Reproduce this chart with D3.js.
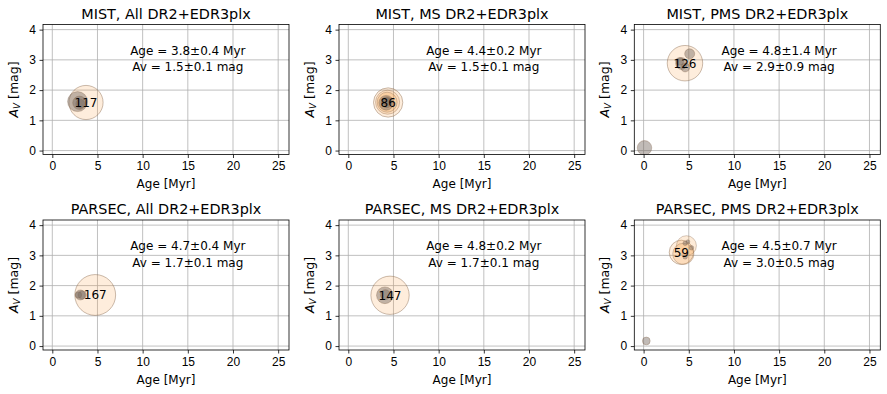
<!DOCTYPE html>
<html>
<head>
<meta charset="utf-8">
<script src="https://cdn.jsdelivr.net/npm/d3@7"></script>
<style>
  body { margin: 0; background: #fff; }
  svg { font-family: "DejaVu Sans", sans-serif; }
  .tick text { font-size: 12px; fill: #000; }
  .grid line { stroke: #b0b0b0; stroke-width: 0.8; }
</style>
</head>
<body>
<div id="chart"></div>
<script>
// panel titles and fit results
var titles = ["MIST, All DR2+EDR3plx", "MIST, MS DR2+EDR3plx", "MIST, PMS DR2+EDR3plx",
              "PARSEC, All DR2+EDR3plx", "PARSEC, MS DR2+EDR3plx", "PARSEC, PMS DR2+EDR3plx"];
var ageText = ["Age = 3.8±0.4 Myr", "Age = 4.4±0.2 Myr", "Age = 4.8±1.4 Myr",
               "Age = 4.7±0.4 Myr", "Age = 4.8±0.2 Myr", "Age = 4.5±0.7 Myr"];
var avText = ["Av = 1.5±0.1 mag", "Av = 1.5±0.1 mag", "Av = 2.9±0.9 mag",
              "Av = 1.7±0.1 mag", "Av = 1.7±0.1 mag", "Av = 3.0±0.5 mag"];

// main group per panel: [age, Av, N]
var mainGroups = [
  [3.73, 1.59, 117],
  [4.41, 1.59, 86],
  [4.58, 2.89, 126],
  [4.75, 1.69, 167],
  [4.62, 1.68, 147],
  [4.18, 3.10, 59]
];
// extra groups per panel: [age, Av, N, kind]
var subGroups = [
  [[2.8, 1.62, 40, "g"], [3.0, 1.58, 18, "g"], [3.1, 1.55, 8, "g"]],
  [[4.35, 1.60, 58, "o"], [4.3, 1.60, 40, "o"], [4.2, 1.58, 22, "g"], [4.25, 1.60, 12, "g"], [4.3, 1.62, 6, "g"]],
  [[0.1, 0.09, 21, "g"], [5.1, 3.20, 10, "g"], [4.2, 2.88, 14, "g"], [4.6, 2.75, 8, "g"], [4.0, 2.95, 6, "g"]],
  [[3.1, 1.69, 10, "g"], [3.3, 1.69, 7, "g"], [2.9, 1.69, 4, "g"]],
  [[4.05, 1.68, 28, "g"], [4.1, 1.70, 10, "g"]],
  [[4.74, 3.32, 40, "o"], [4.4, 3.05, 45, "o"], [0.3, 0.17, 6, "g"],
   [4.6, 3.40, 2, "g"], [5.3, 3.25, 2, "g"], [4.6, 2.95, 2, "g"], [4.9, 3.45, 1.5, "g"]]
];
var xTicks = [0, 5, 10, 15, 20, 25];
var yTicks = [0, 1, 2, 3, 4];

var W = 887, H = 394;
var lefts = [43, 339, 634.3], tops = [24.5, 220];
var pw = 246, ph = 130;

var svg = d3.select("#chart").append("svg").attr("width", W).attr("height", H);

var x = d3.scaleLinear().domain([-1.03, 26.2]).range([0, pw]);
var y = d3.scaleLinear().domain([-0.13, 4.17]).range([ph, 0]);
var r = d3.scaleSqrt().domain([0, 100]).range([0, 15.8]);
var PEACH = "#f79a3c", GREY = "#766860";

titles.forEach(function(t, i) {
  var g = svg.append("g")
    .attr("transform", "translate(" + lefts[i % 3] + "," + tops[Math.floor(i / 3)] + ")");

  // grid
  var grid = g.append("g").attr("class", "grid");
  grid.selectAll(".vx").data(xTicks).enter().append("line")
    .attr("x1", function(d) { return x(d); }).attr("x2", function(d) { return x(d); })
    .attr("y1", 0).attr("y2", ph);
  grid.selectAll(".hy").data(yTicks).enter().append("line")
    .attr("y1", function(d) { return y(d); }).attr("y2", function(d) { return y(d); })
    .attr("x1", 0).attr("x2", pw);

  var clip = "clip" + i;
  g.append("clipPath").attr("id", clip).append("rect").attr("width", pw).attr("height", ph);
  var plot = g.append("g").attr("clip-path", "url(#" + clip + ")");

  var m = mainGroups[i];
  plot.append("circle")
    .attr("cx", x(m[0])).attr("cy", y(m[1])).attr("r", r(m[2]))
    .attr("fill", PEACH).attr("fill-opacity", 0.18)
    .attr("stroke", "#8a6a50").attr("stroke-opacity", 0.45).attr("stroke-width", 1);

  plot.selectAll(".sub").data(subGroups[i]).enter().append("circle")
    .attr("cx", function(d) { return x(d[0]); })
    .attr("cy", function(d) { return y(d[1]); })
    .attr("r", function(d) { return r(d[2]); })
    .attr("fill", function(d) { return d[3] === "o" ? PEACH : GREY; })
    .attr("fill-opacity", function(d) { return d[3] === "o" ? 0.2 : 0.45; })
    .attr("stroke", "#8a6a50").attr("stroke-opacity", 0.35).attr("stroke-width", 1);

  g.append("text")
    .attr("x", x(m[0])).attr("y", y(m[1]))
    .attr("dy", "0.36em").attr("text-anchor", "middle")
    .style("font-size", "12px").text(m[2]);

  // stats
  g.append("text").attr("x", x(15)).attr("y", y(3.31)).attr("dy", "0.36em")
    .attr("text-anchor", "middle").style("font-size", "12px").text(ageText[i]);
  g.append("text").attr("x", x(15)).attr("y", y(2.76)).attr("dy", "0.36em")
    .attr("text-anchor", "middle").style("font-size", "12px").text(avText[i]);

  // axes
  g.append("g").attr("transform", "translate(0," + ph + ")")
    .call(d3.axisBottom(x).tickValues(xTicks).tickFormat(d3.format("d")).tickSize(3.5).tickPadding(3.5))
    .call(function(a) { a.select(".domain").remove(); a.selectAll("line").attr("stroke-width", 0.8); });
  g.append("g")
    .call(d3.axisLeft(y).tickValues(yTicks).tickFormat(d3.format("d")).tickSize(3.5).tickPadding(3.5))
    .call(function(a) { a.select(".domain").remove(); a.selectAll("line").attr("stroke-width", 0.8); });

  g.append("rect").attr("width", pw).attr("height", ph)
    .attr("fill", "none").attr("stroke", "#000").attr("stroke-width", 0.8);

  g.append("text").attr("x", pw / 2).attr("y", -6).attr("text-anchor", "middle")
    .style("font-size", "14.4px").text(t);

  g.append("text").attr("x", pw / 2).attr("y", ph + 33.5).attr("text-anchor", "middle")
    .style("font-size", "12px").text("Age [Myr]");

  var yl = g.append("text")
    .attr("transform", "translate(-25," + (ph / 2) + ") rotate(-90)")
    .attr("text-anchor", "middle").style("font-size", "12.5px");
  yl.append("tspan").style("font-style", "italic").text("A");
  yl.append("tspan").style("font-style", "italic").style("font-size", "8.8px").attr("dy", 2).text("V");
  yl.append("tspan").attr("dy", -2).text(" [mag]");
});
</script>
</body>
</html>
